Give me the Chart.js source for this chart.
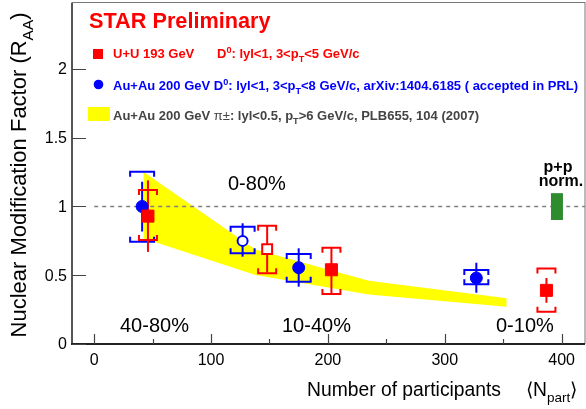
<!DOCTYPE html>
<html>
<head>
<meta charset="utf-8">
<script src="https://cdn.jsdelivr.net/npm/chart.js@4.4.1/dist/chart.umd.min.js"></script>
<style>
  html, body { margin: 0; padding: 0; background: #fff; }
  canvas { display: block; }
</style>
</head>
<body>
<canvas id="chart" width="586" height="409"></canvas>
<script>
// axis ticks
const xTicks = [0, 100, 200, 300, 400];
const xMinorTicks = [50, 150, 250, 350];
const yTicks = [0, 0.5, 1, 1.5, 2];
const yTickLabels = ["0", "0.5", "1", "1.5", "2"];

// U+U 193 GeV, D0 (red squares)
const uuNpart = [46, 148, 203, 387];
const uuRaa = [0.93, 0.69, 0.54, 0.39];
const uuStatLow = [0.67, 0.52, 0.37, 0.30];
const uuStatHigh = [1.19, 0.86, 0.70, 0.48];
const uuSysLow = [0.756, 0.515, 0.364, 0.235];
const uuSysHigh = [1.12, 0.86, 0.70, 0.55];
const uuOpen = [false, true, false, false];

// Au+Au 200 GeV, D0 (blue circles)
const auNpart = [41, 127, 175, 327];
const auRaa = [1.0, 0.75, 0.555, 0.48];
const auStatLow = [0.818, 0.635, 0.417, 0.373];
const auStatHigh = [1.18, 0.878, 0.696, 0.591];
const auSysLow = [0.744, 0.66, 0.453, 0.434];
const auSysHigh = [1.253, 0.853, 0.655, 0.538];
const auOpen = [false, true, false, false];

// Au+Au 200 GeV pi+- band (yellow)
const pionNpart = [42, 138, 235, 353];
const pionHigh = [1.253, 0.687, 0.46, 0.332];
const pionLow = [0.769, 0.502, 0.36, 0.271];

// p+p normalisation box
const ppNpart = 396;
const ppLow = 0.902;
const ppHigh = 1.097;

const RED = "#ff0000";
const BLUE = "#0000ff";
const FONT = '"Liberation Sans", Arial, Helvetica, sans-serif';

function richWidth(ctx, parts, size, weight) {
  let w = 0;
  for (const p of parts) {
    const s = p.sub || p.sup ? size * 0.7 : size;
    ctx.font = `${p.normal ? "normal" : weight} ${s}px ${FONT}`;
    w += ctx.measureText(p.t).width;
  }
  return w;
}

function drawRich(ctx, x, y, parts, size, weight, color) {
  ctx.fillStyle = color;
  ctx.textAlign = "left";
  ctx.textBaseline = "alphabetic";
  for (const p of parts) {
    const s = p.sub || p.sup ? size * 0.7 : size;
    ctx.font = `${p.normal ? "normal" : weight} ${s}px ${FONT}`;
    const dy = p.sub ? size * 0.3 : p.sup ? -size * 0.42 : 0;
    ctx.fillText(p.t, x, y + dy);
    x += ctx.measureText(p.t).width;
  }
  return x;
}

function drawErrors(ctx, xs, ys, npart, statLo, statHi, sysLo, sysHi, color, halfW) {
  ctx.save();
  ctx.strokeStyle = color;
  ctx.lineWidth = 2;
  npart.forEach((n, i) => {
    const px = xs.getPixelForValue(n);
    const top = ys.getPixelForValue(statHi[i]);
    const bot = ys.getPixelForValue(statLo[i]);
    ctx.beginPath();
    ctx.moveTo(px, top);
    ctx.lineTo(px, bot);
    ctx.stroke();
    // systematic brackets
    const st = ys.getPixelForValue(sysHi[i]);
    const sb = ys.getPixelForValue(sysLo[i]);
    ctx.beginPath();
    ctx.moveTo(px - halfW, st + 5);
    ctx.lineTo(px - halfW, st);
    ctx.lineTo(px + halfW, st);
    ctx.lineTo(px + halfW, st + 5);
    ctx.moveTo(px - halfW, sb - 5);
    ctx.lineTo(px - halfW, sb);
    ctx.lineTo(px + halfW, sb);
    ctx.lineTo(px + halfW, sb - 5);
    ctx.stroke();
  });
  ctx.restore();
}

const starPlugin = {
  id: "starDecor",
  afterDatasetDraw(chart, args) {
    if (args.index !== 2) return;
    const { ctx, chartArea, scales: { x, y } } = chart;
    ctx.save();
    ctx.strokeStyle = "#808080";
    ctx.lineWidth = 1.5;
    ctx.setLineDash([4, 4]);
    ctx.beginPath();
    ctx.moveTo(x.getPixelForValue(0), y.getPixelForValue(1));
    ctx.lineTo(chartArea.right, y.getPixelForValue(1));
    ctx.stroke();
    ctx.restore();

    // p+p norm. box
    ctx.fillStyle = "#2e8b2e";
    const bx = x.getPixelForValue(ppNpart);
    const bt = y.getPixelForValue(ppHigh);
    const bb = y.getPixelForValue(ppLow);
    ctx.fillRect(bx - 6, bt, 12, bb - bt);

    drawErrors(ctx, x, y, auNpart, auStatLow, auStatHigh, auSysLow, auSysHigh, BLUE, 12);
    drawErrors(ctx, x, y, uuNpart, uuStatLow, uuStatHigh, uuSysLow, uuSysHigh, RED, 9);
  },
  afterDraw(chart) {
    const { ctx, chartArea: a, scales: { x, y } } = chart;
    ctx.save();
    // frame
    ctx.strokeStyle = "#777";
    ctx.lineWidth = 1;
    ctx.strokeRect(a.left, a.top - 0.5, a.right - a.left, a.bottom - a.top);
    ctx.lineWidth = 2;
    ctx.strokeStyle = "#555";
    ctx.beginPath();
    ctx.moveTo(a.left, a.top);
    ctx.lineTo(a.left, a.bottom);
    ctx.stroke();
    ctx.strokeStyle = "#222";
    ctx.beginPath();
    ctx.moveTo(a.left - 1, a.bottom);
    ctx.lineTo(a.right, a.bottom);
    ctx.stroke();

    // ticks
    ctx.lineWidth = 1.2;
    ctx.strokeStyle = "#444";
    ctx.beginPath();
    xTicks.forEach(v => {
      const px = Math.round(x.getPixelForValue(v)) + 0.5;
      ctx.moveTo(px, a.bottom);
      ctx.lineTo(px, a.bottom - 10);
    });
    xMinorTicks.forEach(v => {
      const px = Math.round(x.getPixelForValue(v)) + 0.5;
      ctx.moveTo(px, a.bottom);
      ctx.lineTo(px, a.bottom - 5);
    });
    yTicks.forEach(v => {
      const py = Math.round(y.getPixelForValue(v)) + 0.5;
      ctx.moveTo(a.left, py);
      ctx.lineTo(a.left + 14, py);
    });
    ctx.stroke();

    // tick labels
    ctx.fillStyle = "#000";
    ctx.font = `16px ${FONT}`;
    ctx.textAlign = "center";
    ctx.textBaseline = "alphabetic";
    xTicks.forEach(v => ctx.fillText(String(v), x.getPixelForValue(v), 365));
    ctx.textAlign = "right";
    ctx.textBaseline = "middle";
    yTicks.forEach((v, i) => ctx.fillText(yTickLabels[i], a.left - 5, y.getPixelForValue(v) + 1));

    // axis titles
    ctx.textBaseline = "alphabetic";
    drawRich(ctx, 307, 396, [{ t: "Number of participants" }], 19.3, "normal", "#000");
    drawRich(ctx, 526, 396, [{ t: "\u27E8N" }, { t: "part", sub: true }, { t: "\u27E9" }], 19.3, "normal", "#000");

    const yTitle = [{ t: "Nuclear Modification Factor (R" }, { t: "AA", sub: true }, { t: ")" }];
    const tw = richWidth(ctx, yTitle, 22, "normal");
    ctx.save();
    ctx.translate(26, 175);
    ctx.rotate(-Math.PI / 2);
    drawRich(ctx, -tw / 2, 0, yTitle, 22, "normal", "#000");
    ctx.restore();

    // centrality labels
    ctx.fillStyle = "#000";
    ctx.font = `20px ${FONT}`;
    ctx.textAlign = "left";
    ctx.fillText("0-80%", 228, 190);
    ctx.fillText("40-80%", 120, 332);
    ctx.fillText("10-40%", 282, 332);
    ctx.fillText("0-10%", 496, 332);
    ctx.font = `bold 16px ${FONT}`;
    ctx.textAlign = "center";
    ctx.fillText("p+p", 558, 172);
    ctx.fillText("norm.", 561, 186);

    // legend
    ctx.textAlign = "left";
    ctx.fillStyle = RED;
    ctx.font = `bold 21.7px ${FONT}`;
    ctx.fillText("STAR Preliminary", 89, 28);

    ctx.fillStyle = RED;
    ctx.fillRect(93, 49, 10, 10);
    drawRich(ctx, 113, 58, [{ t: "U+U 193 GeV" }], 13, "bold", RED);
    drawRich(ctx, 217, 58, [{ t: "D" }, { t: "0", sup: true }, { t: ": lyl<1, 3<p" }, { t: "T", sub: true }, { t: "<5 GeV/c" }], 13, "bold", RED);

    ctx.fillStyle = BLUE;
    ctx.beginPath();
    ctx.arc(98.5, 84.5, 4.8, 0, Math.PI * 2);
    ctx.fill();
    drawRich(ctx, 113, 90, [{ t: "Au+Au 200 GeV D" }, { t: "0", sup: true }, { t: ": lyl<1, 3<p" }, { t: "T", sub: true }, { t: "<8 GeV/c, arXiv:1404.6185 ( accepted in PRL)" }], 13, "bold", BLUE);

    ctx.fillStyle = "#ffff00";
    ctx.fillRect(88, 107, 22, 14);
    drawRich(ctx, 113, 120, [{ t: "Au+Au 200 GeV " }, { t: "\u03C0\u00B1", normal: true }, { t: ": lyl<0.5, p" }, { t: "T", sub: true }, { t: ">6 GeV/c, PLB655, 104 (2007)" }], 13, "bold", "#444");
    ctx.restore();
  }
};

new Chart(document.getElementById("chart"), {
  type: "line",
  data: {
    datasets: [
      {
        label: "U+U 193 GeV",
        data: uuNpart.map((n, i) => ({ x: n, y: uuRaa[i] })),
        showLine: false,
        pointStyle: "rect",
        pointRadius: uuOpen.map(o => (o ? 7 : 8.5)),
        pointBorderWidth: uuOpen.map(o => (o ? 2 : 1)),
        pointBackgroundColor: uuOpen.map(o => (o ? "#fff" : RED)),
        pointBorderColor: RED,
      },
      {
        label: "Au+Au 200 GeV D0",
        data: auNpart.map((n, i) => ({ x: n, y: auRaa[i] })),
        showLine: false,
        pointStyle: "circle",
        pointRadius: auOpen.map(o => (o ? 5 : 6)),
        pointBorderWidth: auOpen.map(o => (o ? 2 : 1)),
        pointBackgroundColor: auOpen.map(o => (o ? "#fff" : BLUE)),
        pointBorderColor: BLUE,
      },
      {
        label: "pion high",
        data: pionNpart.map((n, i) => ({ x: n, y: pionHigh[i] })),
        borderWidth: 0,
        pointRadius: 0,
        tension: 0,
        fill: "+1",
        backgroundColor: "#ffff00",
      },
      {
        label: "pion low",
        data: pionNpart.map((n, i) => ({ x: n, y: pionLow[i] })),
        borderWidth: 0,
        pointRadius: 0,
        tension: 0,
        fill: false,
      },
    ],
  },
  options: {
    responsive: false,
    animation: false,
    layout: { autoPadding: false, padding: { left: 72, right: 1, top: 3, bottom: 65 } },
    scales: {
      x: { type: "linear", min: -19, max: 420, display: false },
      y: { type: "linear", min: 0, max: 2.48, display: false },
    },
    plugins: {
      legend: { display: false },
      tooltip: { enabled: false },
    },
  },
  plugins: [starPlugin],
});
</script>
</body>
</html>
